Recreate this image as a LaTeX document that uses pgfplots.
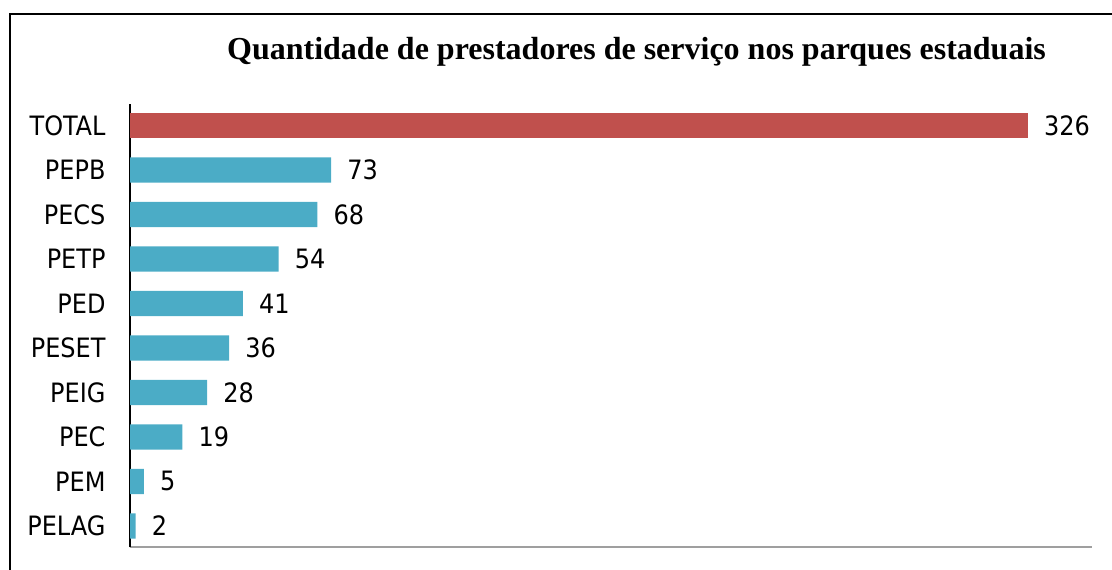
\documentclass[border=0pt]{standalone}
\usepackage{pgfplots}
\pgfplotsset{compat=1.18}
\usepackage{fontspec}
\setmainfont{Liberation Serif}
\newfontfamily\lab{DejaVu Sans Condensed}
\definecolor{barred}{HTML}{C0504D}
\definecolor{barblue}{HTML}{4BACC6}
\begin{document}
\begin{tikzpicture}
\useasboundingbox (0,0) rectangle (834pt,-426.75pt);
\draw[line width=1.4pt, black] (7.8pt,-440pt) -- (7.8pt,-10.2pt) -- (850pt,-10.2pt);
\node[font=\bfseries\fontsize{24}{28}\selectfont] at (477.4pt,-39pt) {Quantidade de prestadores de serviço nos parques estaduais};
\begin{axis}[
  at={(97.5pt,-78pt)}, anchor=north west,
  scale only axis, width=721.5pt, height=332.6pt,
  xbar, bar shift=0pt, bar width=18.9pt,
  xmin=0, xmax=349.3, ymin=-0.485, ymax=9.485,
  axis x line*=bottom, axis y line*=left,
  x axis line style={-, draw=gray!75, line width=1.5pt},
  y axis line style={-, draw=black, line width=1pt},
  xtick=\empty,
  ytick={0,...,9},
  yticklabels={PELAG,PEM,PEC,PEIG,PESET,PED,PETP,PECS,PEPB,TOTAL},
  ytick style={draw=none},
  yticklabel style={font=\lab\fontsize{20}{22}\selectfont, anchor=east, inner sep=0pt, xshift=-13.9pt},
  /pgf/number format/assume math mode=true,
  nodes near coords,
  nodes near coords style={font=\lab\fontsize{20}{22}\selectfont, anchor=west, inner sep=0pt, xshift=12pt, black},
  clip=false,
]
\addplot[fill=barred, draw=none] coordinates {(326,9)};
\addplot[fill=barblue, draw=none] coordinates {(73,8) (68,7) (54,6) (41,5) (36,4) (28,3) (19,2) (5,1) (2,0)};
\end{axis}
\end{tikzpicture}
\end{document}
